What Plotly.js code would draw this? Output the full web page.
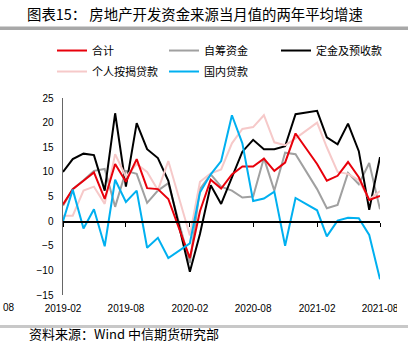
<!DOCTYPE html>
<html><head><meta charset="utf-8">
<script src="https://cdn.plot.ly/plotly-3.0.1.min.js"></script>
<style>html,body{margin:0;padding:0;background:#fff;overflow:hidden}</style>
</head><body><div id="chart" style="width:413px;height:342px"></div>
<script>
// ---- data ----
const months = [
  '2019-02-01','2019-03-01','2019-04-01','2019-05-01','2019-06-01','2019-07-01','2019-08-01','2019-09-01','2019-10-01','2019-11-01','2019-12-01',
  '2020-02-01','2020-03-01','2020-04-01','2020-05-01','2020-06-01','2020-07-01','2020-08-01','2020-09-01','2020-10-01','2020-11-01','2020-12-01',
  '2021-02-01','2021-03-01','2021-04-01','2021-05-01','2021-06-01','2021-07-01','2021-08-01'
];
const seriesNames = ['合计','自筹资金','定金及预收款','个人按揭贷款','国内贷款'];
const total = [3.4,6.5,8.2,9.9,4.5,11.6,8.0,12.6,6.7,6.5,4.5,
               -7.5,2.0,8.4,6.6,9.5,11.1,11.1,12.7,10.2,11.9,17.8,
               11.6,8.2,9.2,12.0,8.9,4.3,5.1];
const selfRaised = [3.1,6.5,8.3,10.2,10.6,2.9,10.2,9.6,3.7,6.2,7.7,
                    -8.5,6.5,9.5,7.0,6.2,4.8,5.0,12.8,6.2,13.9,13.6,
                    6.5,2.6,3.3,9.8,7.5,11.8,2.4];
const deposits = [10.0,12.6,13.7,13.4,6.2,21.9,7.0,19.9,14.6,12.8,8.2,
                  -10.3,-2.6,7.3,3.5,8.9,14.1,16.5,14.6,14.6,15.2,21.7,
                  22.4,17.0,15.6,19.8,14.2,2.3,13.0];
const mortgage = [1.1,1.1,6.2,7.0,3.5,13.6,9.0,11.6,10.0,6.3,12.2,
                  -2.9,8.0,9.7,10.5,15.8,18.7,19.1,21.5,16.0,15.4,16.8,
                  20.0,15.0,10.0,9.6,8.3,4.4,6.1];
const domesticLoans = [0.0,6.4,-1.5,2.4,-5.1,8.4,3.9,6.2,-5.4,-3.4,-7.5,
                       -4.5,5.8,9.5,12.2,21.5,15.8,4.1,4.6,6.0,-5.0,4.7,
                       2.2,-3.1,0.1,0.7,0.6,-2.8,-11.8];
const xRange = ['2019-02-01','2021-08-01'];
const yRange = [-15, 25];
const leftTickFragment = '08';

// ---- layout helpers (pixel -> paper) ----
const W = 413, H = 342, L = 63, R = 380, T = 97.5, B = 294.6;
const px = v => (v - L) / (R - L);
const py = v => (B - v) / (B - T);

const colors = ['#e8000b','#a0a0a0','#000000','#f6c9c9','#00b0f0'];
const seriesData = [total, selfRaised, deposits, mortgage, domesticLoans];
const order = [1,2,3,0,4]; // drawing order

const traces = [];
[0,1,2,3,4].forEach(i => {
  traces.push({
    type:'scatter', mode:'lines', name: seriesNames[i],
    x: months, y: seriesData[i],
    line:{color: colors[i], width: 2},
    legend: i < 3 ? 'legend' : 'legend2',
    legendrank: i,
    hoverinfo:'skip'
  });
});
// carrier for the zero-line axis with ticks
traces.push({type:'scatter', mode:'lines', x:[], y:[], xaxis:'x2', yaxis:'y', showlegend:false, hoverinfo:'skip'});

const tickFont = {family:'Liberation Sans, Arial, sans-serif', size:10, color:'#000'};
const cjk = 'Noto Sans CJK SC, sans-serif';

const layout = {
  width: W, height: H,
  margin: {l: L, r: W - R, t: T, b: H - B, pad: 0},
  paper_bgcolor:'#fff', plot_bgcolor:'#fff',
  showlegend: true,
  title: {text:'图表15： 房地产开发资金来源当月值的两年平均增速', font:{family:cjk, size:14.4, color:'#000'},
          xref:'container', yref:'container', x: 27/W, xanchor:'left', y: 1 - 15/H, yanchor:'middle'},
  xaxis: {type:'date', range: xRange, tick0:'2019-02-01', dtick:'M6', tickformat:'%Y-%m',
          showgrid:false, zeroline:false, showline:false, ticks:'', tickfont: tickFont,
          ticklabelstandoff: 6, fixedrange:true},
  xaxis2: {type:'date', range: xRange, tick0:'2019-02-01', dtick:'M6', overlaying:'x', anchor:'free',
           position: (0 - yRange[0])/(yRange[1]-yRange[0]), side:'bottom',
           showline:true, linecolor:'#000', linewidth:1.5, ticks:'outside', ticklen:4, tickwidth:1, tickcolor:'#000',
           showticklabels:false, showgrid:false, zeroline:false, fixedrange:true},
  yaxis: {range: yRange, dtick:5, showgrid:false, zeroline:false, showline:true, linecolor:'#666', linewidth:1.5,
          ticks:'', tickfont: tickFont, ticklabelstandoff: 6, fixedrange:true},
  legend: {orientation:'h', x: px(52), xanchor:'left', y: py(50), yanchor:'middle', entrywidth: 67,
           font:{family:cjk, size:11, color:'#000'}, bgcolor:'rgba(0,0,0,0)', borderwidth:0, traceorder:'normal'},
  legend2: {orientation:'h', x: px(52), xanchor:'left', y: py(71), yanchor:'middle', entrywidth: 67,
           font:{family:cjk, size:11, color:'#000'}, bgcolor:'rgba(0,0,0,0)', borderwidth:0, traceorder:'normal'},
  shapes: [
    {type:'rect', xref:'paper', yref:'paper', x0: px(0), x1: px(408), y0: py(29.5), y1: py(26), fillcolor:'#a8a8a8', line:{width:0}, layer:'above'},
    {type:'rect', xref:'paper', yref:'paper', x0: px(0), x1: px(408), y0: py(327.5), y1: py(324.5), fillcolor:'#c8c8c8', line:{width:0}, layer:'above'},
    {type:'rect', xref:'paper', yref:'paper', x0: px(397), x1: px(414), y0: py(318), y1: py(300), fillcolor:'#ffffff', line:{width:0}, layer:'above'}
  ],
  annotations: [
    {text: leftTickFragment, xref:'paper', yref:'paper', x: px(0.5), xanchor:'left', y: py(307.5), yanchor:'middle',
     showarrow:false, font: tickFont},
    {text:'资料来源：Wind 中信期货研究部', xref:'paper', yref:'paper', x: px(28), xanchor:'left', y: py(333), yanchor:'middle',
     showarrow:false, borderpad:0, font:{family:cjk, size:13, color:'#000'}}
  ]
};

Plotly.newPlot('chart', order.map(i => traces[i]).concat([traces[5]]), layout, {staticPlot:true, displayModeBar:false});
</script>
</body></html>
